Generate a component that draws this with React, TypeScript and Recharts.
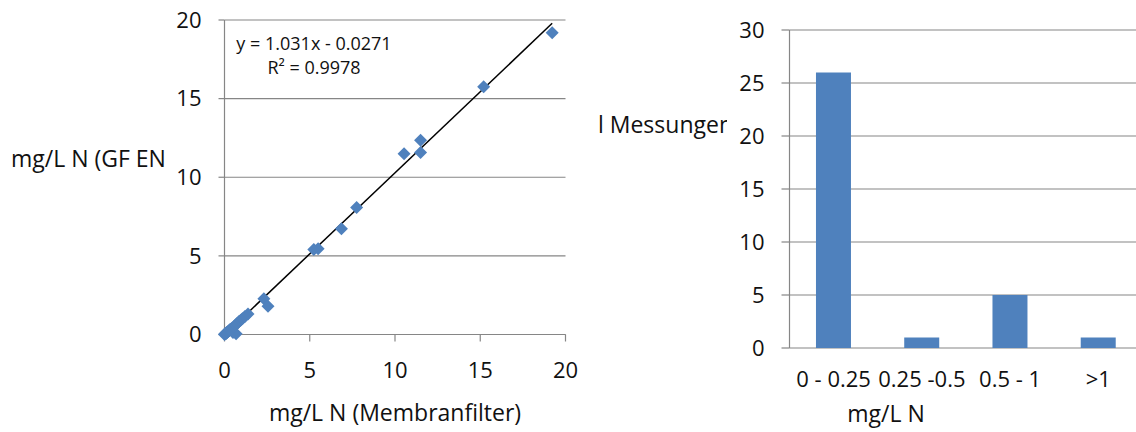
import {
  ComposedChart,
  Scatter,
  XAxis,
  YAxis,
  CartesianGrid,
  ReferenceLine,
  BarChart,
  Bar,
} from 'recharts';

// Paired readings, mg/L N
const membranfilter = [
  19.22, 15.2, 10.53, 11.5, 11.5, 7.75, 6.86, 5.49, 5.24, 2.31, 2.55, 0.68,
  0.0, 0.02, 0.05, 0.08, 0.1, 0.12, 0.15, 0.2, 0.25, 0.3, 0.35, 0.45, 0.5,
  0.55, 0.65, 0.75, 0.85, 0.95, 1.05, 1.2, 1.38,
];
const gfEn = [
  19.19, 15.75, 11.5, 12.36, 11.57, 8.07, 6.73, 5.46, 5.41, 2.27, 1.8, 0.04,
  0.0, 0.03, 0.04, 0.06, 0.1, 0.1, 0.14, 0.18, 0.22, 0.28, 0.33, 0.42, 0.12,
  0.5, 0.6, 0.72, 0.82, 0.9, 1.0, 1.15, 1.3,
];
const slope = 1.031;
const intercept = -0.0271;
const rSquared = 0.9978;
const scatterTicks = [0, 5, 10, 15, 20];

// Histogram of the differences
const classes = ['0 - 0.25', '0.25 -0.5', '0.5 - 1', '>1'];
const counts = [26, 1, 5, 1];
const countTicks = [0, 5, 10, 15, 20, 25, 30];

const FONT = '"Open Sans", sans-serif';
const GRID = '#868686';
const BLUE = '#4F81BD';
const TEXT = '#111';

const points = membranfilter.map((x, i) => ({ x, y: gfEn[i] }));
const xMin = Math.min(...membranfilter);
const xMax = Math.max(...membranfilter);
const trend = [
  { x: xMin, y: slope * xMin + intercept },
  { x: xMax, y: slope * xMax + intercept },
];
const histData = classes.map((name, i) => ({ name, count: counts[i] }));
// tick marks sit between the categories, like Excel draws them
const edgeTicks = classes.map((_, i) => i).concat(classes.length);

const Diamond = (props: any) => {
  const { cx, cy } = props;
  const r = 6.5;
  return (
    <polygon
      points={`${cx},${cy - r} ${cx + r},${cy} ${cx},${cy + r} ${cx - r},${cy}`}
      fill={BLUE}
    />
  );
};

const tickStyle = { fill: TEXT, fontSize: 22, fontFamily: FONT };

export default function App() {
  return (
    <div
      style={{
        position: 'absolute',
        left: 0,
        top: 0,
        width: 1136,
        height: 432,
        background: '#fff',
        overflow: 'hidden',
        fontFamily: FONT,
        color: TEXT,
      }}
    >
      {/* GF EN vs. membrane filter */}
      <div style={{ position: 'absolute', left: 0, top: 0 }}>
        <ComposedChart
          width={600}
          height={432}
          margin={{ top: 20, right: 34.5, bottom: 47.5, left: 164.5 }}
        >
          <CartesianGrid vertical={false} stroke={GRID} strokeWidth={1.2} />
          <XAxis
            type="number"
            dataKey="x"
            domain={[0, 20]}
            ticks={scatterTicks}
            height={50}
            stroke={GRID}
            strokeWidth={1.2}
            tickSize={7}
            tickMargin={21}
            tick={tickStyle}
          />
          <YAxis
            type="number"
            dataKey="y"
            domain={[0, 20]}
            ticks={scatterTicks}
            width={60}
            stroke={GRID}
            strokeWidth={1.2}
            tickSize={6}
            tickMargin={17}
            tick={tickStyle}
          />
          <Scatter data={points} shape={Diamond} isAnimationActive={false} />
          <ReferenceLine
            segment={trend}
            stroke="#000"
            strokeWidth={1.5}
            ifOverflow="visible"
          />
        </ComposedChart>
      </div>

      <div
        style={{
          position: 'absolute',
          left: 234,
          top: 31,
          width: 160,
          textAlign: 'center',
          fontSize: 18,
          lineHeight: '24px',
        }}
      >
        <div>{`y = ${slope}x - ${Math.abs(intercept)}`}</div>
        <div>R² = {rSquared}</div>
      </div>

      <div
        style={{
          position: 'absolute',
          left: 0,
          top: 142,
          width: 166,
          overflow: 'hidden',
          whiteSpace: 'nowrap',
          fontSize: 23,
          lineHeight: '32px',
        }}
      >
        <span style={{ paddingLeft: 11 }}>mg/L N (GF EN</span>
      </div>

      <div
        style={{
          position: 'absolute',
          left: 245,
          top: 396,
          width: 300,
          textAlign: 'center',
          fontSize: 23,
          lineHeight: '32px',
        }}
      >
        mg/L N (Membranfilter)
      </div>

      {/* Histogram */}
      <div style={{ position: 'absolute', left: 600, top: 0 }}>
        <BarChart
          width={560}
          height={432}
          data={histData}
          barCategoryGap="30%"
          margin={{ top: 30, right: 17.5, bottom: 44, left: 129.5 }}
        >
          <CartesianGrid vertical={false} stroke={GRID} strokeWidth={1.2} />
          <XAxis
            xAxisId="edges"
            type="number"
            domain={[0, classes.length]}
            ticks={edgeTicks}
            allowDataOverflow
            height={0}
            stroke={GRID}
            strokeWidth={1.2}
            tickSize={7}
            tick={false}
          />
          <XAxis
            dataKey="name"
            height={40}
            axisLine={false}
            tickLine={false}
            tickSize={7}
            tickMargin={16}
            tick={tickStyle}
            interval={0}
          />
          <YAxis
            domain={[0, 30]}
            ticks={countTicks}
            width={60}
            stroke={GRID}
            strokeWidth={1.2}
            tickSize={8}
            tickMargin={17}
            tick={tickStyle}
          />
          <Bar dataKey="count" fill={BLUE} isAnimationActive={false} />
        </BarChart>
      </div>

      <div
        style={{
          position: 'absolute',
          left: 597,
          top: 108,
          width: 130,
          height: 34,
          overflow: 'hidden',
          fontSize: 23,
          lineHeight: '32px',
        }}
      >
        <span style={{ position: 'absolute', right: -6, whiteSpace: 'nowrap' }}>
          Anzahl Messungen
        </span>
      </div>

      <div
        style={{
          position: 'absolute',
          left: 786,
          top: 397,
          width: 200,
          textAlign: 'center',
          fontSize: 23,
          lineHeight: '32px',
        }}
      >
        mg/L N
      </div>
    </div>
  );
}
